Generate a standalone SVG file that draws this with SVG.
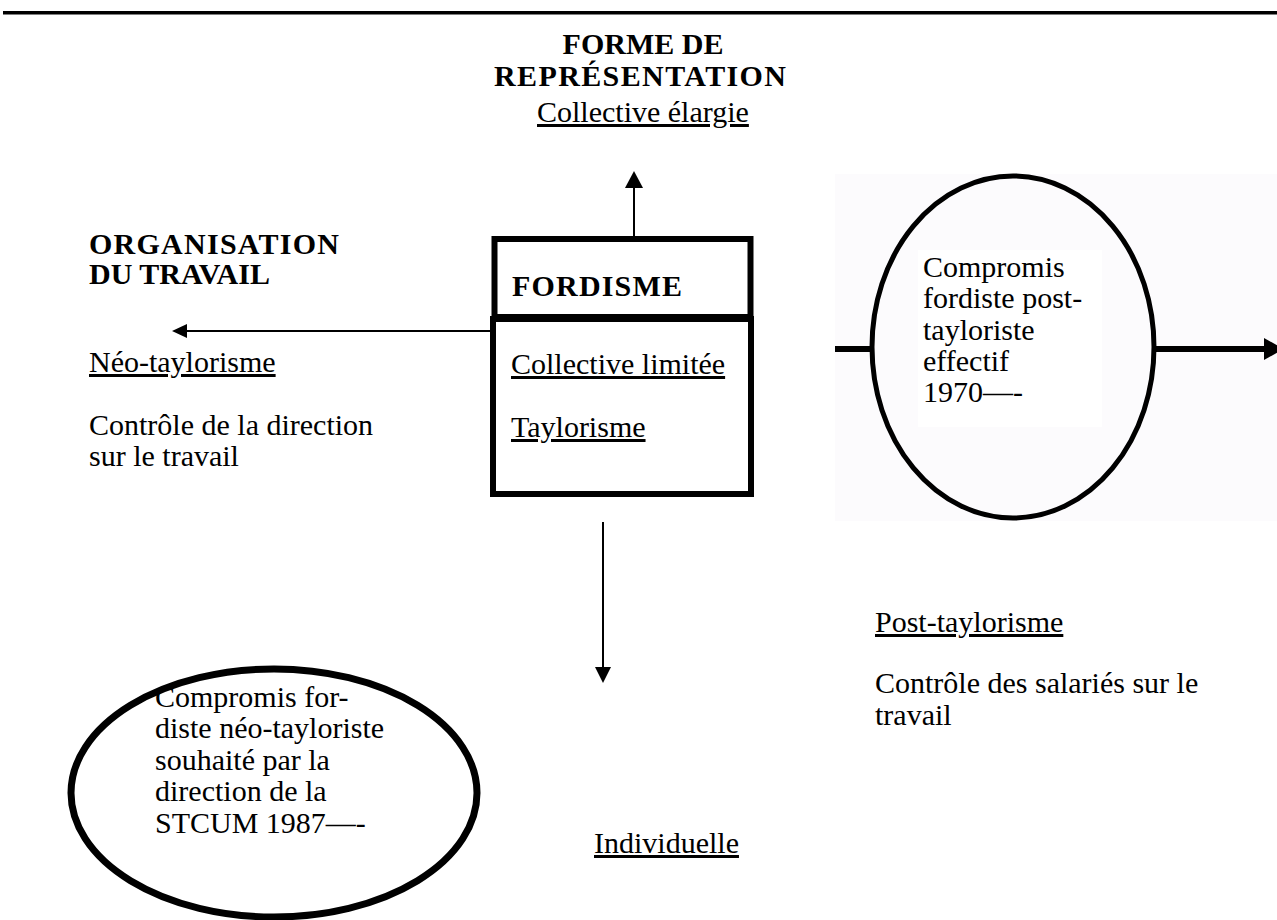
<svg xmlns="http://www.w3.org/2000/svg" width="1277" height="920" viewBox="0 0 1277 920">
<style>
text{font-family:"Liberation Serif","Times New Roman",serif;fill:#000}
.b{font-weight:bold;font-size:30px}
.t{font-size:30px}
.u{text-decoration:underline}
.thin{stroke:#000;stroke-width:2;fill:none}
</style>
<rect width="1277" height="920" fill="#fff"/>
<rect x="3" y="11" width="1274" height="3.5" fill="#000"/>
<g id="title">
<text class="b" x="643" y="54" text-anchor="middle">FORME DE</text>
<text class="b" x="640" y="86" text-anchor="middle" textLength="292">REPRÉSENTATION</text>
</g>
<g id="collective-elargie"><text class="t u" x="537" y="122">Collective élargie</text></g>
<g id="organisation">
<text class="b" x="89" y="254" textLength="250">ORGANISATION</text>
<text class="b" x="89" y="284">DU TRAVAIL</text>
</g>
<g id="fordisme">
<rect x="494.5" y="239" width="256" height="78" fill="none" stroke="#000" stroke-width="6"/>
<rect x="493" y="319" width="258" height="175" fill="none" stroke="#000" stroke-width="6"/>
<text class="b" x="512" y="296" textLength="170">FORDISME</text>
<text class="t u" x="511" y="374">Collective limitée</text>
<text class="t u" x="511" y="437">Taylorisme</text>
</g>
<g id="neo-taylorisme">
<text class="t u" x="89" y="372">Néo-taylorisme</text>
<text class="t" x="89" y="435">Contrôle de la direction</text>
<text class="t" x="89" y="466">sur le travail</text>
</g>
<g id="compromis-post">
<rect x="835" y="174" width="442" height="347" fill="#fcfbfd"/>
<ellipse cx="1013" cy="347" rx="141" ry="171" fill="none" stroke="#000" stroke-width="5"/>
<rect x="918" y="250" width="184" height="177" fill="#fff"/>
<text class="t" x="923" y="277">Compromis</text>
<text class="t" x="923" y="308">fordiste post-</text>
<text class="t" x="923" y="340">tayloriste</text>
<text class="t" x="923" y="371">effectif</text>
<text class="t" x="923" y="402">1970—-</text>
</g>
<g id="post-taylorisme">
<text class="t u" x="875" y="632">Post-taylorisme</text>
<text class="t" x="875" y="693">Contrôle des salariés sur le</text>
<text class="t" x="875" y="725">travail</text>
</g>
<g id="individuelle"><text class="t u" x="594" y="853">Individuelle</text></g>
<g id="compromis-neo">
<ellipse cx="274" cy="793" rx="203" ry="124" fill="none" stroke="#000" stroke-width="7"/>
<text class="t" x="155" y="707">Compromis for-</text>
<text class="t" x="155" y="738">diste néo-tayloriste</text>
<text class="t" x="155" y="770">souhaité par la</text>
<text class="t" x="155" y="801">direction de la</text>
<text class="t" x="155" y="833">STCUM 1987—-</text>
</g>
<g id="connectors">
<line class="thin" x1="634" y1="237" x2="634" y2="186"/>
<polygon points="625,188 634,171 643,188" fill="#000"/>
<line class="thin" x1="490" y1="331" x2="185" y2="331"/>
<polygon points="187,324 172,331 187,338" fill="#000"/>
<line class="thin" x1="603" y1="522" x2="603" y2="668"/>
<polygon points="595,667 603,683 611,667" fill="#000"/>
<line x1="835" y1="349" x2="871" y2="349" stroke="#000" stroke-width="6"/>
<line x1="1155" y1="349" x2="1266" y2="349" stroke="#000" stroke-width="6"/>
<polygon points="1264,338 1284,349 1264,360" fill="#000"/>
</g>
</svg>
